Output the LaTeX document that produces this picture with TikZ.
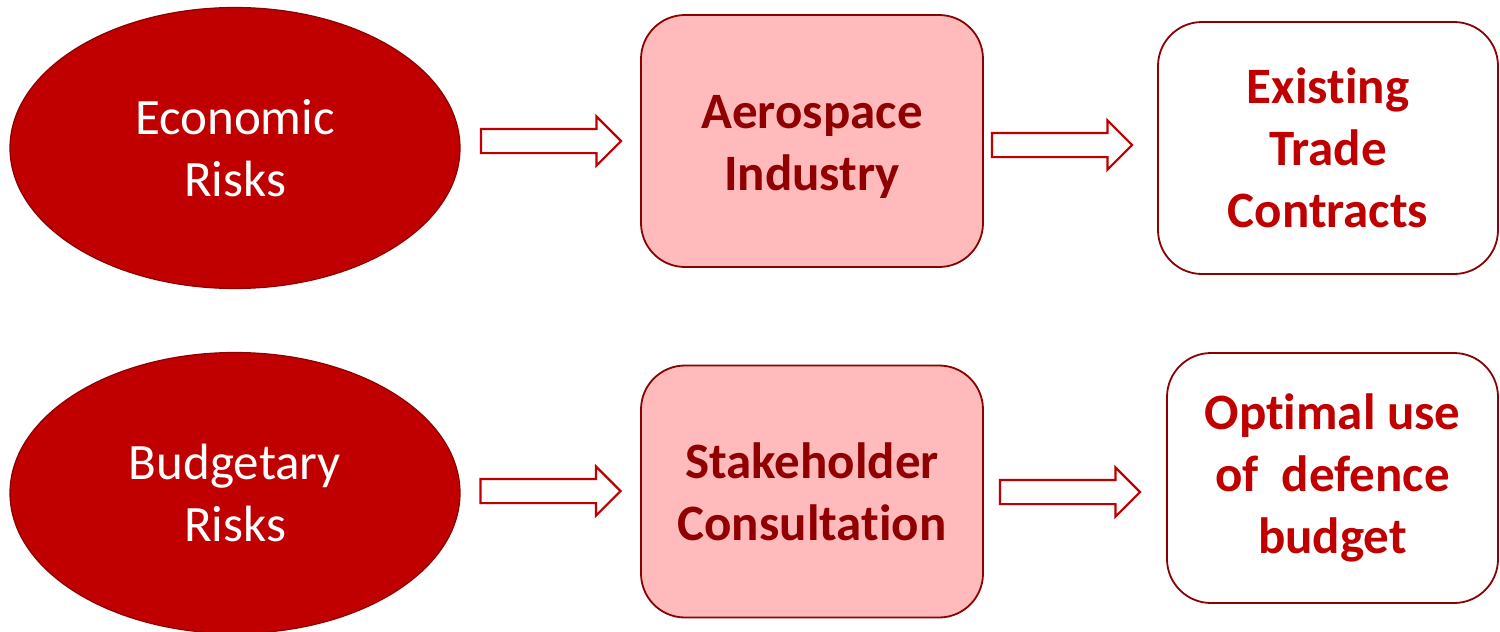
\documentclass[tikz,border=0pt]{standalone}
\usepackage{fontspec}
\setmainfont{Carlito}[Ligatures=NoCommon,RawFeature={-liga;-calt}]
\usetikzlibrary{shapes.geometric,shapes.arrows}
\definecolor{dred}{HTML}{C00000}
\definecolor{bord}{HTML}{8B0000}
\definecolor{pinkfill}{HTML}{FFBBBB}
\definecolor{boxtext}{HTML}{900000}
\begin{document}
\begin{tikzpicture}[x=0.5pt,y=-0.5pt,
  risk/.style={ellipse, draw=bord, line width=0.6pt, fill=dred, inner sep=0pt,
    minimum width=225pt, minimum height=140.5pt, text=white, align=center,
    font=\fontsize{25.5}{31}\selectfont},
  pinkbox/.style={rectangle, rounded corners=22pt, draw=bord, line width=0.9pt, fill=pinkfill,
    minimum width=171pt, minimum height=126pt, text=boxtext, align=center,
    font=\bfseries\fontsize{25.5}{31}\selectfont},
  boxlabel/.style={text=boxtext, align=center, inner sep=0pt,
    font=\bfseries\fontsize{25.5}{31}\selectfont},
  whitebox/.style={rectangle, rounded corners=22pt, draw=bord, line width=0.9pt, fill=white,
    minimum width=170pt, minimum height=126pt, text=dred, align=center,
    font=\bfseries\fontsize{25.5}{31}\selectfont},
  blockarrow/.style={single arrow, draw=dred, line width=1.1pt, fill=white,
    inner xsep=0pt, inner ysep=5.5pt, single arrow head extend=6.25pt,
    minimum height=70pt, single arrow tip angle=90}]
\useasboundingbox (0,0) rectangle (1500,632);
\node[risk] (e1) at (235,148) {Economic\\Risks};
\node[risk] (e2) at (235,493) {Budgetary\\Risks};
\node[pinkbox] (b1) at (812,141) {};
\node[boxlabel] (b1t) at (812,147) {Aerospace\\Industry};
\node[pinkbox] (b2) at (812,491.5) {Stakeholder\\Consultation};
\node[whitebox] (c1) at (1328,148) {Existing\\Trade\\Contracts};
\node[whitebox, minimum width=165.5pt, minimum height=125pt] (c2) at (1332.5,478) {Optimal use\\of~ defence\\budget};
\node[blockarrow] (a1) at (545,141) {};
\node[blockarrow] (a2) at (1056,145) {};
\node[blockarrow] (a3) at (544.5,491) {};
\node[blockarrow] (a4) at (1064,492) {};
\end{tikzpicture}
\end{document}
